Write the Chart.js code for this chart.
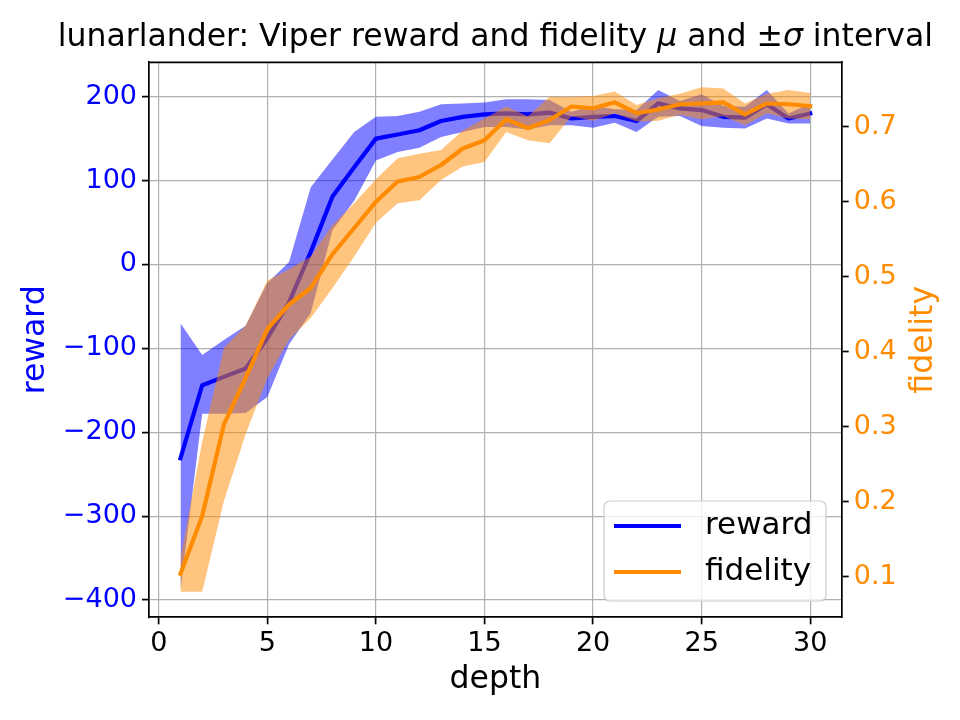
<!DOCTYPE html>
<html>
<head>
<meta charset="utf-8">
<title>lunarlander viper</title>
<script src="https://cdn.jsdelivr.net/npm/chart.js@4.4.1/dist/chart.umd.min.js"></script>
<style>
  html, body { margin: 0; padding: 0; background: #ffffff; }
  #wrap { width: 960px; height: 720px; }
</style>
</head>
<body>
<div id="wrap"><canvas id="chart" width="960" height="720"></canvas></div>
<script>
// Viper on lunarlander: reward and fidelity per tree depth, mean and +/- std band

const depth = [1, 2, 3, 4, 5, 6, 7, 8, 9, 10, 11, 12, 13, 14, 15,
               16, 17, 18, 19, 20, 21, 22, 23, 24, 25, 26, 27, 28, 29, 30];

const rewardMean = [-231, -144, -134, -124, -88, -45, 15, 81, 116, 150,
                    155, 160, 171, 176, 179, 180, 179, 181, 174, 176,
                    177, 171, 192, 186, 184, 176, 175, 191, 174, 180];
const rewardUpper = [-70, -108, -90, -73, -22, 3, 92, 125, 158, 176,
                     177, 182, 191, 192, 193, 197, 197, 196, 182, 189,
                     185, 184, 208, 195, 203, 189, 188, 208, 180, 192];
const rewardLower = [-388, -178, -178, -177, -158, -95, -58, 41, 76, 124,
                     134, 139, 152, 158, 164, 164, 161, 166, 166, 163,
                     169, 158, 176, 177, 165, 163, 162, 174, 168, 168];

const fidelityMean = [0.104, 0.181, 0.303, 0.365, 0.43, 0.463, 0.485, 0.53, 0.565, 0.6,
                      0.627, 0.633, 0.649, 0.671, 0.682, 0.71, 0.698, 0.709, 0.727, 0.7245,
                      0.7325, 0.718, 0.723, 0.73, 0.731, 0.7325, 0.7165, 0.731, 0.73, 0.7275];
const fidelityUpper = [0.125, 0.28, 0.405, 0.435, 0.495, 0.51, 0.527, 0.569, 0.598, 0.63,
                       0.658, 0.664, 0.669, 0.695, 0.711, 0.727, 0.714, 0.74, 0.74, 0.741,
                       0.747, 0.729, 0.738, 0.744, 0.7525, 0.751, 0.731, 0.744, 0.749, 0.745];
const fidelityLower = [0.08, 0.08, 0.201, 0.29, 0.365, 0.416, 0.445, 0.485, 0.527, 0.572,
                       0.598, 0.602, 0.629, 0.647, 0.653, 0.693, 0.682, 0.678, 0.714, 0.708,
                       0.718, 0.707, 0.708, 0.716, 0.71, 0.714, 0.702, 0.718, 0.711, 0.71];

const xTicks = [0, 5, 10, 15, 20, 25, 30];
const rewardTicks = [-400, -300, -200, -100, 0, 100, 200];
const fidelityTicks = [0.1, 0.2, 0.3, 0.4, 0.5, 0.6, 0.7];

const FONT = '"DejaVu Sans", sans-serif';
const BLUE = "rgb(0, 0, 255)";
const ORANGE = "rgb(255, 140, 0)";
const TICK_SIZE = 27;
const LABEL_SIZE = 31.5;

function pts(ys) {
  return depth.map((d, i) => ({ x: d, y: ys[i] }));
}

function fixTicks(list) {
  return function (scale) {
    scale.ticks = list.map(v => ({ value: v }));
  };
}

function minusFmt(v) {
  return v < 0 ? "\u2212" + Math.abs(v) : String(v);
}

// title with italic mu / sigma like matplotlib mathtext
function drawTitle(ctx, cx, cy) {
  const parts = [
    ["lunarlander: Viper reward and fidelity ", false],
    ["\u03bc", true],
    [" and \u00b1", false],
    ["\u03c3", true],
    [" interval", false]
  ];
  const size = 31.5;
  let total = 0;
  parts.forEach(p => {
    ctx.font = (p[1] ? "italic " : "") + size + "px " + FONT;
    total += ctx.measureText(p[0]).width;
  });
  let x = cx - total / 2;
  ctx.textAlign = "left";
  ctx.textBaseline = "middle";
  ctx.fillStyle = "#000";
  parts.forEach(p => {
    ctx.font = (p[1] ? "italic " : "") + size + "px " + FONT;
    ctx.fillText(p[0], x, cy);
    x += ctx.measureText(p[0]).width;
  });
}

const decorations = {
  id: "decorations",
  afterDraw(chart) {
    const ctx = chart.ctx;
    const a = chart.chartArea;
    ctx.save();

    // top spine
    ctx.strokeStyle = "#000";
    ctx.lineWidth = 1.7;
    ctx.beginPath();
    ctx.moveTo(a.left - 0.85, a.top);
    ctx.lineTo(a.right + 0.85, a.top);
    ctx.stroke();

    drawTitle(ctx, (a.left + a.right) / 2, 38);

    // axis labels
    ctx.font = LABEL_SIZE + "px " + FONT;
    ctx.textAlign = "center";
    ctx.textBaseline = "middle";
    ctx.fillStyle = "#000";
    ctx.fillText("depth", (a.left + a.right) / 2, 680);

    const midY = (a.top + a.bottom) / 2;
    ctx.save();
    ctx.translate(36, midY);
    ctx.rotate(-Math.PI / 2);
    ctx.fillStyle = BLUE;
    ctx.fillText("reward", 0, 0);
    ctx.restore();

    ctx.save();
    ctx.translate(924, midY);
    ctx.rotate(-Math.PI / 2);
    ctx.fillStyle = ORANGE;
    ctx.fillText("fidelity", 0, 0);
    ctx.restore();

    // legend box (lower right)
    const bx = 604, by = 501, bw = 222, bh = 100, r = 6;
    ctx.beginPath();
    ctx.moveTo(bx + r, by);
    ctx.arcTo(bx + bw, by, bx + bw, by + bh, r);
    ctx.arcTo(bx + bw, by + bh, bx, by + bh, r);
    ctx.arcTo(bx, by + bh, bx, by, r);
    ctx.arcTo(bx, by, bx + bw, by, r);
    ctx.closePath();
    ctx.fillStyle = "rgba(255, 255, 255, 0.8)";
    ctx.fill();
    ctx.strokeStyle = "#cccccc";
    ctx.lineWidth = 1.2;
    ctx.stroke();

    const items = [["reward", BLUE, 526], ["fidelity", ORANGE, 572]];
    ctx.font = "31px " + FONT;
    ctx.textAlign = "left";
    items.forEach(it => {
      ctx.strokeStyle = it[1];
      ctx.lineWidth = 4.2;
      ctx.beginPath();
      ctx.moveTo(614, it[2]);
      ctx.lineTo(681, it[2]);
      ctx.stroke();
      ctx.fillStyle = "#000";
      ctx.fillText(it[0], 705, it[2]);
    });

    ctx.restore();
  }
};

const ctx = document.getElementById("chart").getContext("2d");
const chart = new Chart(ctx, {
  type: "line",
  data: {
    datasets: [
      {
        label: "reward upper",
        data: pts(rewardUpper),
        yAxisID: "y",
        borderWidth: 0,
        pointRadius: 0,
        backgroundColor: "rgba(0, 0, 255, 0.5)",
        fill: "+1",
        order: 5
      },
      {
        label: "reward lower",
        data: pts(rewardLower),
        yAxisID: "y",
        borderWidth: 0,
        pointRadius: 0,
        fill: false,
        order: 4
      },
      {
        label: "reward",
        data: pts(rewardMean),
        yAxisID: "y",
        borderColor: BLUE,
        borderWidth: 4.2,
        pointRadius: 0,
        fill: false,
        order: 3
      },
      {
        label: "fidelity upper",
        data: pts(fidelityUpper),
        yAxisID: "y1",
        borderWidth: 0,
        pointRadius: 0,
        backgroundColor: "rgba(255, 140, 0, 0.5)",
        fill: "+1",
        order: 2
      },
      {
        label: "fidelity lower",
        data: pts(fidelityLower),
        yAxisID: "y1",
        borderWidth: 0,
        pointRadius: 0,
        fill: false,
        order: 1
      },
      {
        label: "fidelity",
        data: pts(fidelityMean),
        yAxisID: "y1",
        borderColor: ORANGE,
        borderWidth: 4.2,
        pointRadius: 0,
        fill: false,
        order: 0
      }
    ]
  },
  options: {
    responsive: false,
    animation: false,
    devicePixelRatio: 1,
    layout: { padding: { top: 62.3, left: 0, right: 0, bottom: 0 } },
    elements: {
      line: { tension: 0, borderJoinStyle: "round", borderCapStyle: "square" }
    },
    scales: {
      x: {
        type: "linear",
        min: -0.45,
        max: 31.45,
        afterBuildTicks: fixTicks(xTicks),
        afterFit: scale => { scale.height = 720 - 617.3; },
        grid: {
          color: "#b0b0b0",
          lineWidth: 1.2,
          tickColor: "#000",
          tickLength: 7,
          tickWidth: 1.7
        },
        border: { display: true, color: "#000", width: 1.7 },
        ticks: {
          autoSkip: false,
          maxRotation: 0,
          padding: 3,
          color: "#000",
          font: { family: FONT, size: TICK_SIZE }
        }
      },
      y: {
        type: "linear",
        position: "left",
        min: -420.6,
        max: 241,
        afterBuildTicks: fixTicks(rewardTicks),
        afterFit: scale => { scale.width = 149; },
        grid: {
          color: "#b0b0b0",
          lineWidth: 1.2,
          tickColor: "#000",
          tickLength: 7,
          tickWidth: 1.7
        },
        border: { display: true, color: "#000", width: 1.7 },
        ticks: {
          autoSkip: false,
          padding: 5,
          color: BLUE,
          font: { family: FONT, size: TICK_SIZE },
          callback: v => minusFmt(v)
        }
      },
      y1: {
        type: "linear",
        position: "right",
        min: 0.0459,
        max: 0.7859,
        afterBuildTicks: fixTicks(fidelityTicks),
        afterFit: scale => { scale.width = 960 - 841.7; },
        grid: {
          drawOnChartArea: false,
          tickColor: "#000",
          tickLength: 7,
          tickWidth: 1.7
        },
        border: { display: true, color: "#000", width: 1.7 },
        ticks: {
          autoSkip: false,
          padding: 5,
          color: ORANGE,
          font: { family: FONT, size: TICK_SIZE },
          callback: v => v.toFixed(1)
        }
      }
    },
    plugins: {
      legend: { display: false },
      title: { display: false },
      tooltip: { enabled: false },
      filler: { propagate: false }
    }
  },
  plugins: [decorations]
});
</script>
</body>
</html>
